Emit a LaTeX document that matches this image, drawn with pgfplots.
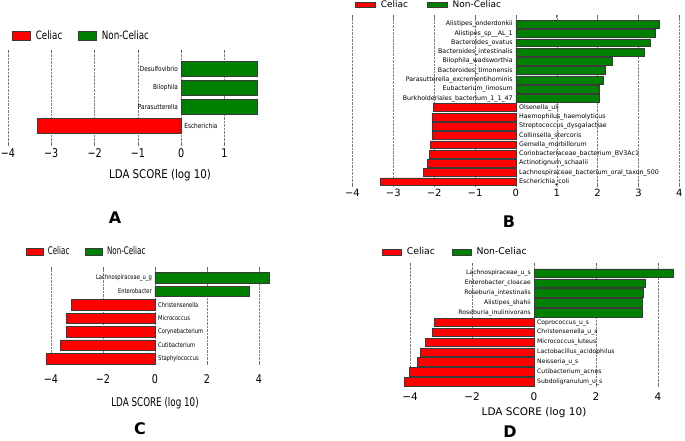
\documentclass[border=0pt]{standalone}
\usepackage{graphicx}
\usepackage{fontspec}
\setmainfont{DejaVu Sans}
\usepackage{pgfplots}
\pgfplotsset{compat=1.18}
\definecolor{cred}{HTML}{FF0000}
\definecolor{cgreen}{HTML}{008000}
\definecolor{edge}{HTML}{3A3A3A}
\newcommand\sqz[2]{\scalebox{#1}[1]{#2}}
\newcommand\fs[1]{\fontsize{#1}{#1}\selectfont}
\pgfplotsset{
  lefse/.style={
    scale only axis, axis line style={draw=none}, ytick=\empty,
    xmajorgrids, grid style={densely dotted, black!50, line width=0.5pt},
    major tick length=3pt, tick style={black!60, line width=0.6pt},
    xtick pos=both, xticklabel pos=lower,
    xbar, bar shift=0pt, clip=false,
    legend columns=2,
    legend style={draw=none, fill=none, inner sep=0pt, anchor=west},
  },
  lgd/.style 2 args={legend image code/.code={\draw[##1, draw=edge, line width=0.6pt] (0pt,-#2/2) rectangle (#1,#2/2);}},
}
\tikzset{
  pl/.style={anchor=east, inner sep=0pt, xshift=-3pt},
  nl/.style={anchor=west, inner sep=0pt, xshift=3pt},
}
\begin{document}
\begin{tikzpicture}
\useasboundingbox (0pt,0pt) rectangle (685pt,-441pt);

% ---------------- Panel A ----------------
\begin{axis}[lefse, at={(5.8pt,-145pt)}, anchor=south west,
  width=255.5pt, height=95pt,
  xmin=-4.05, xmax=1.85, ymin=-1, ymax=4, bar width=0.8,
  xtick={-4,-3,-2,-1,0,1},
  xticklabels={\sqz{0.8}{−4},\sqz{0.8}{−3},\sqz{0.8}{−2},\sqz{0.8}{−1},\sqz{0.8}{0},\sqz{0.8}{1}},
  xticklabel style={font=\fs{12}},
  xlabel={\sqz{0.85}{LDA SCORE (log 10)}},
  xlabel style={at={(axis description cs:0.6035,-0.316)}, anchor=center, font=\fs{12}},
  legend style={at={(axis description cs:0.0243,1.147)}, font=\fs{11.5},
    /tikz/every odd column/.append style={column sep=3pt},
    /tikz/every even column/.append style={column sep=14pt}},
]
\addplot[fill=cred, draw=edge, line width=0.6pt, lgd={18pt}{8.5pt}] coordinates {(-3.32,0)};
\addlegendentry{\sqz{0.76}{Celiac}}
\addplot[fill=cgreen, draw=edge, line width=0.6pt, lgd={18pt}{8.5pt}] coordinates {(1.76,3) (1.76,2) (1.76,1)};
\addlegendentry{\sqz{0.76}{Non-Celiac}}
\node[pl, font=\fs{6.8}] at (axis cs:0,3) {\sqz{0.85}{Desulfovibrio}};
\node[pl, font=\fs{6.8}] at (axis cs:0,2) {\sqz{0.85}{Bilophila}};
\node[pl, font=\fs{6.8}] at (axis cs:0,1) {\sqz{0.85}{Parasutterella}};
\node[nl, font=\fs{6.8}] at (axis cs:0,0) {\sqz{0.85}{Escherichia}};
\end{axis}

% ---------------- Panel B ----------------
\begin{axis}[lefse, at={(350.4pt,-186pt)}, anchor=south west,
  width=329pt, height=171pt,
  xmin=-4.05, xmax=4, ymin=-0.45, ymax=18.0, bar width=0.85,
  xtick={-4,-3,-2,-1,0,1,2,3,4},
  xticklabels={−4,−3,−2,−1,0,1,2,3,4},
  xticklabel style={font=\fs{10}},
  legend style={at={(axis description cs:0.014,1.058)}, font=\fs{9},
    /tikz/every odd column/.append style={column sep=3pt},
    /tikz/every even column/.append style={column sep=17pt}},
]
\addplot[fill=cred, draw=edge, line width=0.6pt, lgd={20pt}{4.6pt}] coordinates {
 (-2.02,8) (-2.04,7) (-2.05,6) (-2.05,5) (-2.10,4) (-2.12,3) (-2.17,2) (-2.27,1) (-3.32,0)};
\addlegendentry{Celiac}
\addplot[fill=cgreen, draw=edge, line width=0.6pt, lgd={20pt}{4.6pt}] coordinates {
 (3.52,17) (3.40,16) (3.30,15) (3.15,14) (2.37,13) (2.19,12) (2.15,11) (2.03,10) (2.03,9)};
\addlegendentry{Non-Celiac}
\node[pl, font=\fs{6.3}] at (axis cs:0,17) {Alistipes\_onderdonkii};
\node[pl, font=\fs{6.3}] at (axis cs:0,16) {Alistipes\_sp\_\_AL\_1};
\node[pl, font=\fs{6.3}] at (axis cs:0,15) {Bacteroides\_ovatus};
\node[pl, font=\fs{6.3}] at (axis cs:0,14) {Bacteroides\_intestinalis};
\node[pl, font=\fs{6.3}] at (axis cs:0,13) {Bilophila\_wadsworthia};
\node[pl, font=\fs{6.3}] at (axis cs:0,12) {Bacteroides\_timonensis};
\node[pl, font=\fs{6.3}] at (axis cs:0,11) {Parasutterella\_excrementihominis};
\node[pl, font=\fs{6.3}] at (axis cs:0,10) {Eubacterium\_limosum};
\node[pl, font=\fs{6.3}] at (axis cs:0,9) {Burkholderiales\_bacterium\_1\_1\_47};
\node[nl, font=\fs{6.3}] at (axis cs:0,8) {Olsenella\_uli};
\node[nl, font=\fs{6.3}] at (axis cs:0,7) {Haemophilus\_haemolyticus};
\node[nl, font=\fs{6.3}] at (axis cs:0,6) {Streptococcus\_dysgalactiae};
\node[nl, font=\fs{6.3}] at (axis cs:0,5) {Collinsella\_stercoris};
\node[nl, font=\fs{6.3}] at (axis cs:0,4) {Gemella\_morbillorum};
\node[nl, font=\fs{6.3}] at (axis cs:0,3) {Coriobacteriaceae\_bacterium\_BV3Ac1};
\node[nl, font=\fs{6.3}] at (axis cs:0,2) {Actinotignum\_schaalii};
\node[nl, font=\fs{6.3}] at (axis cs:0,1) {Lachnospiraceae\_bacterium\_oral\_taxon\_500};
\node[nl, font=\fs{6.3}] at (axis cs:0,0) {Escherichia\_coli};
\end{axis}

% ---------------- Panel C ----------------
\begin{axis}[lefse, at={(45.8pt,-364pt)}, anchor=south west,
  width=224.9pt, height=97.3pt,
  xmin=-4.2, xmax=4.45, ymin=-0.39, ymax=6.84, bar width=0.79,
  xtick={-4,-2,0,2,4},
  xticklabels={\sqz{0.8}{−4},\sqz{0.8}{−2},\sqz{0.8}{0},\sqz{0.8}{2},\sqz{0.8}{4}},
  xticklabel style={font=\fs{12}, yshift=-7pt},
  xlabel={\sqz{0.73}{LDA SCORE (log 10)}},
  xlabel style={at={(axis description cs:0.4856,-0.40)}, anchor=center, font=\fs{12}},
  legend style={at={(axis description cs:-0.088,1.156)}, font=\fs{10.5},
    /tikz/every odd column/.append style={column sep=2pt},
    /tikz/every even column/.append style={column sep=14pt}},
]
\addplot[fill=cred, draw=edge, line width=0.6pt, lgd={17pt}{7pt}] coordinates {
 (-3.21,4) (-3.40,3) (-3.40,2) (-3.63,1) (-4.17,0)};
\addlegendentry{\sqz{0.68}{Celiac}}
\addplot[fill=cgreen, draw=edge, line width=0.6pt, lgd={17pt}{7pt}] coordinates {
 (4.40,6) (3.63,5)};
\addlegendentry{\sqz{0.68}{Non-Celiac}}
\node[pl, font=\fs{6.5}] at (axis cs:0,6) {\sqz{0.8}{Lachnospiraceae\_u\_g}};
\node[pl, font=\fs{6.5}] at (axis cs:0,5) {\sqz{0.8}{Enterobacter}};
\node[nl, font=\fs{6.5}] at (axis cs:0,4) {\sqz{0.8}{Christensenella}};
\node[nl, font=\fs{6.5}] at (axis cs:0,3) {\sqz{0.8}{Micrococcus}};
\node[nl, font=\fs{6.5}] at (axis cs:0,2) {\sqz{0.8}{Corynebacterium}};
\node[nl, font=\fs{6.5}] at (axis cs:0,1) {\sqz{0.8}{Cutibacterium}};
\node[nl, font=\fs{6.5}] at (axis cs:0,0) {\sqz{0.8}{Staphylococcus}};
\end{axis}

% ---------------- Panel D ----------------
\begin{axis}[lefse, at={(402.25pt,-386pt)}, anchor=south west,
  width=271.25pt, height=122.7pt,
  xmin=-4.25, xmax=4.5, ymin=-0.44, ymax=12.0, bar width=0.85,
  xtick={-4,-2,0,2,4},
  xticklabels={−4,−2,0,2,4},
  xticklabel style={font=\fs{10.5}, yshift=-3pt},
  xlabel={LDA SCORE (log 10)},
  xlabel style={at={(axis description cs:0.4857,-0.22)}, anchor=center, font=\fs{10.5}},
  legend style={at={(axis description cs:-0.0747,1.092)}, font=\fs{9.3},
    /tikz/every odd column/.append style={column sep=3pt},
    /tikz/every even column/.append style={column sep=15pt}},
]
\addplot[fill=cred, draw=edge, line width=0.6pt, lgd={19pt}{6pt}] coordinates {
 (-3.22,6) (-3.29,5) (-3.51,4) (-3.67,3) (-3.77,2) (-4.01,1) (-4.19,0)};
\addlegendentry{Celiac}
\addplot[fill=cgreen, draw=edge, line width=0.6pt, lgd={19pt}{6pt}] coordinates {
 (4.49,11) (3.60,10) (3.54,9) (3.48,8) (3.48,7)};
\addlegendentry{Non-Celiac}
\node[pl, font=\fs{6.1}] at (axis cs:0,11) {Lachnospiraceae\_u\_s};
\node[pl, font=\fs{6.1}] at (axis cs:0,10) {Enterobacter\_cloacae};
\node[pl, font=\fs{6.1}] at (axis cs:0,9) {Roseburia\_intestinalis};
\node[pl, font=\fs{6.1}] at (axis cs:0,8) {Alistipes\_shahii};
\node[pl, font=\fs{6.1}] at (axis cs:0,7) {Roseburia\_inulinivorans};
\node[nl, font=\fs{6.1}] at (axis cs:0,6) {Coprococcus\_u\_s};
\node[nl, font=\fs{6.1}] at (axis cs:0,5) {Christensenella\_u\_s};
\node[nl, font=\fs{6.1}] at (axis cs:0,4) {Micrococcus\_luteus};
\node[nl, font=\fs{6.1}] at (axis cs:0,3) {Lactobacillus\_acidophilus};
\node[nl, font=\fs{6.1}] at (axis cs:0,2) {Neisseria\_u\_s};
\node[nl, font=\fs{6.1}] at (axis cs:0,1) {Cutibacterium\_acnes};
\node[nl, font=\fs{6.1}] at (axis cs:0,0) {Subdoligranulum\_u\_s};
\end{axis}

\node[font=\fs{16}\bfseries] at (115pt,-218pt) {A};
\node[font=\fs{16}\bfseries] at (509pt,-222pt) {B};
\node[font=\fs{16}\bfseries] at (140pt,-429pt) {C};
\node[font=\fs{16}\bfseries] at (510pt,-432pt) {D};
\end{tikzpicture}
\end{document}
